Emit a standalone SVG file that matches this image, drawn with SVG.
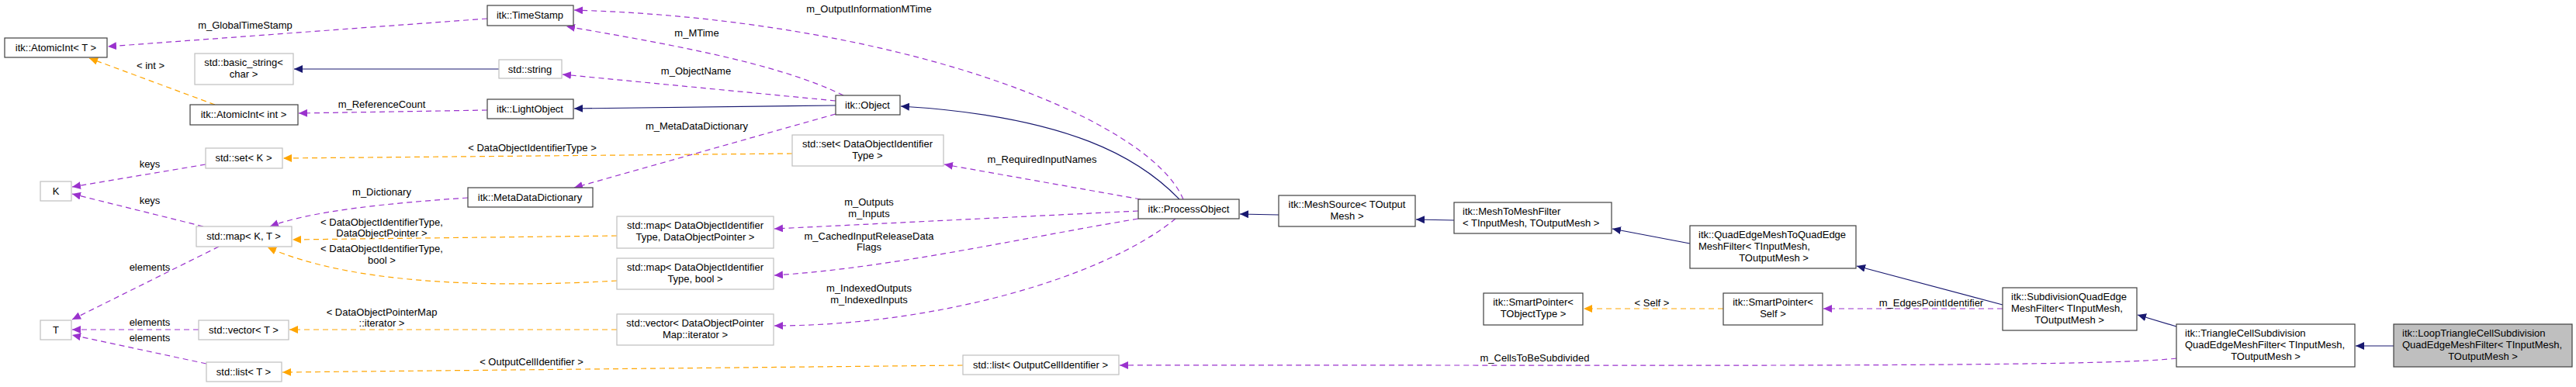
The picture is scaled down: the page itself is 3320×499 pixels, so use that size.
<svg xmlns="http://www.w3.org/2000/svg" width="3320" height="499" viewBox="0 0 3320 499">
<style>
text{font-family:"Liberation Sans",Arial,sans-serif;font-size:13px;fill:#000}
.c{text-anchor:middle}
.b{fill:#fff;stroke:#404040;stroke-width:1.2}
.g{fill:#fff;stroke:#bfbfbf;stroke-width:1.2}
.h{fill:#bfbfbf;stroke:#404040;stroke-width:1.2}
.i{fill:none;stroke:#191970;stroke-width:1.2;marker-end:url(#an)}
.t{fill:none;stroke:#FFA500;stroke-width:1.2;stroke-dasharray:7,5;marker-end:url(#ao)}
.u{fill:none;stroke:#9A32CD;stroke-width:1.2;stroke-dasharray:7,5;marker-end:url(#ap)}
</style>
<defs>
<marker id="an" markerWidth="12" markerHeight="10" refX="11" refY="5" orient="auto" markerUnits="userSpaceOnUse"><path d="M0,0 L11,5 L0,10 Z" fill="#191970"/></marker>
<marker id="ao" markerWidth="12" markerHeight="10" refX="11" refY="5" orient="auto" markerUnits="userSpaceOnUse"><path d="M0,0 L11,5 L0,10 Z" fill="#FFA500"/></marker>
<marker id="ap" markerWidth="12" markerHeight="10" refX="11" refY="5" orient="auto" markerUnits="userSpaceOnUse"><path d="M0,0 L11,5 L0,10 Z" fill="#9A32CD"/></marker>
</defs>
<rect width="3320" height="499" fill="#fff"/>
<g id="connectors">
<path class="i" d="M3085,446 L3036,446"/>
<path class="i" d="M2805,421 L2755,406"/>
<path class="i" d="M2581,393 L2393,343"/>
<path class="i" d="M2178,314 L2078,295"/>
<path class="i" d="M1874,284 L1825,283"/>
<path class="i" d="M1648,277 L1598,276"/>
<path class="i" d="M1520,257 C1470,205 1380,150 1161,137"/>
<path class="i" d="M1077,136 L740,140"/>
<path class="i" d="M643,89 L379,89"/>
<path class="t" d="M277,135 L115,75"/><text class="c" x="194" y="89">&lt; int &gt;</text>
<path class="t" d="M1021,198 L365,204"/><text class="c" x="686" y="195">&lt; DataObjectIdentifierType &gt;</text>
<path class="t" d="M795,304 L377,309"/><text class="c" x="492" y="291">&lt; DataObjectIdentifierType,</text><text class="c" x="492" y="305">DataObjectPointer &gt;</text>
<path class="t" d="M795,362 C620,372 450,365 345,319"/><text class="c" x="492" y="325">&lt; DataObjectIdentifierType,</text><text class="c" x="492" y="340">bool &gt;</text>
<path class="t" d="M795,425 L373,425"/><text class="c" x="492" y="407">&lt; DataObjectPointerMap</text><text class="c" x="492" y="421">::iterator &gt;</text>
<path class="t" d="M1241,471 L364,480"/><text class="c" x="685" y="471">&lt; OutputCellIdentifier &gt;</text>
<path class="t" d="M2221,398 L2041,398"/><text class="c" x="2129" y="395">&lt; Self &gt;</text>
<path class="u" d="M628,24 L139,60"/><text class="c" x="316" y="37">m_GlobalTimeStamp</text>
<path class="u" d="M628,142 L385,146"/><text class="c" x="492" y="139">m_ReferenceCount</text>
<path class="u" d="M265,212 L93,241"/><text class="c" x="193" y="216">keys</text>
<path class="u" d="M262,292 L93,250"/><text class="c" x="193" y="263">keys</text>
<path class="u" d="M282,318 L93,412"/><text class="c" x="193" y="349">elements</text>
<path class="u" d="M256,425 L93,425"/><text class="c" x="193" y="420">elements</text>
<path class="u" d="M266,469 L93,432"/><text class="c" x="193" y="440">elements</text>
<path class="u" d="M603,255 C500,262 400,272 348,292"/><text class="c" x="492" y="252">m_Dictionary</text>
<path class="u" d="M1087,123 C1000,80 850,55 730,34"/><text class="c" x="898" y="47">m_MTime</text>
<path class="u" d="M1077,130 L725,96"/><text class="c" x="897" y="96">m_ObjectName</text>
<path class="u" d="M1077,147 L740,242"/><text class="c" x="898" y="167">m_MetaDataDictionary</text>
<path class="u" d="M1525,257 C1480,150 1150,25 740,13"/><text class="c" x="1120" y="16">m_OutputInformationMTime</text>
<path class="u" d="M1470,257 L1217,212"/><text class="c" x="1343" y="210">m_RequiredInputNames</text>
<path class="u" d="M1467,272 L998,295"/><text class="c" x="1120" y="265">m_Outputs</text><text class="c" x="1120" y="280">m_Inputs</text>
<path class="u" d="M1467,282 C1300,310 1150,345 998,355"/><text class="c" x="1120" y="309">m_CachedInputReleaseData</text><text class="c" x="1120" y="323">Flags</text>
<path class="u" d="M1515,282 C1420,360 1200,420 998,420"/><text class="c" x="1120" y="376">m_IndexedOutputs</text><text class="c" x="1120" y="391">m_IndexedInputs</text>
<path class="u" d="M2805,462 C2700,475 2000,470 1443,471"/><text class="c" x="1978" y="466">m_CellsToBeSubdivided</text>
<path class="u" d="M2581,398 L2350,398"/><text class="c" x="2489" y="395">m_EdgesPointIdentifier</text>
</g>
<g id="AtomicIntT"><rect class="b" x="6" y="49" width="132" height="25"/><text class="c" x="72" y="66">itk::AtomicInt&lt; T &gt;</text></g>
<g id="basic_string"><rect class="g" x="251" y="69" width="127" height="40"/><text class="c" x="314" y="85">std::basic_string&lt;</text><text class="c" x="314" y="100">char &gt;</text></g>
<g id="AtomicIntInt"><rect class="b" x="245" y="135" width="139" height="26"/><text class="c" x="314" y="152">itk::AtomicInt&lt; int &gt;</text></g>
<g id="setK"><rect class="g" x="265" y="191" width="99" height="26"/><text class="c" x="314" y="208">std::set&lt; K &gt;</text></g>
<g id="K"><rect class="g" x="52" y="234" width="40" height="25"/><text class="c" x="72" y="251">K</text></g>
<g id="mapKT"><rect class="g" x="253" y="292" width="123" height="26"/><text class="c" x="314" y="309">std::map&lt; K, T &gt;</text></g>
<g id="T"><rect class="g" x="52" y="413" width="40" height="25"/><text class="c" x="72" y="430">T</text></g>
<g id="vectorT"><rect class="g" x="256" y="413" width="116" height="25"/><text class="c" x="314" y="430">std::vector&lt; T &gt;</text></g>
<g id="listT"><rect class="g" x="266" y="467" width="97" height="25"/><text class="c" x="314" y="484">std::list&lt; T &gt;</text></g>
<g id="TimeStamp"><rect class="b" x="628" y="7" width="111" height="26"/><text class="c" x="683" y="24">itk::TimeStamp</text></g>
<g id="string"><rect class="g" x="643" y="77" width="81" height="24"/><text class="c" x="683" y="94">std::string</text></g>
<g id="LightObject"><rect class="b" x="628" y="128" width="111" height="25"/><text class="c" x="683" y="145">itk::LightObject</text></g>
<g id="MetaDataDictionary"><rect class="b" x="603" y="242" width="161" height="25"/><text class="c" x="683" y="259">itk::MetaDataDictionary</text></g>
<g id="mapDOP"><rect class="g" x="795" y="279" width="202" height="41"/><text class="c" x="896" y="295">std::map&lt; DataObjectIdentifier</text><text class="c" x="896" y="310">Type, DataObjectPointer &gt;</text></g>
<g id="mapBool"><rect class="g" x="795" y="333" width="202" height="40"/><text class="c" x="896" y="349">std::map&lt; DataObjectIdentifier</text><text class="c" x="896" y="364">Type, bool &gt;</text></g>
<g id="vectorDOP"><rect class="g" x="795" y="405" width="202" height="40"/><text class="c" x="896" y="421">std::vector&lt; DataObjectPointer</text><text class="c" x="896" y="436">Map::iterator &gt;</text></g>
<g id="Object"><rect class="b" x="1077" y="123" width="83" height="25"/><text class="c" x="1118" y="140">itk::Object</text></g>
<g id="setDOI"><rect class="g" x="1021" y="174" width="195" height="40"/><text class="c" x="1118" y="190">std::set&lt; DataObjectIdentifier</text><text class="c" x="1118" y="205">Type &gt;</text></g>
<g id="listOCI"><rect class="g" x="1241" y="458" width="201" height="25"/><text class="c" x="1341" y="475">std::list&lt; OutputCellIdentifier &gt;</text></g>
<g id="ProcessObject"><rect class="b" x="1467" y="257" width="130" height="25"/><text class="c" x="1532" y="274">itk::ProcessObject</text></g>
<g id="MeshSource"><rect class="b" x="1648" y="252" width="176" height="40"/><text class="c" x="1736" y="268">itk::MeshSource&lt; TOutput</text><text class="c" x="1736" y="283">Mesh &gt;</text></g>
<g id="MeshToMeshFilter"><rect class="b" x="1874" y="261" width="203" height="40"/><text x="1885" y="277">itk::MeshToMeshFilter</text><text x="1885" y="292">&lt; TInputMesh, TOutputMesh &gt;</text></g>
<g id="QEMToQEMFilter"><rect class="b" x="2178" y="291" width="214" height="55"/><text x="2189" y="307">itk::QuadEdgeMeshToQuadEdge</text><text x="2189" y="322">MeshFilter&lt; TInputMesh,</text><text class="c" x="2286" y="337">TOutputMesh &gt;</text></g>
<g id="SmartPointerTObjectType"><rect class="b" x="1912" y="378" width="128" height="41"/><text class="c" x="1976" y="394">itk::SmartPointer&lt;</text><text class="c" x="1976" y="409">TObjectType &gt;</text></g>
<g id="SmartPointerSelf"><rect class="b" x="2221" y="378" width="128" height="41"/><text class="c" x="2285" y="394">itk::SmartPointer&lt;</text><text class="c" x="2285" y="409">Self &gt;</text></g>
<g id="Subdivision"><rect class="b" x="2581" y="371" width="173" height="55"/><text x="2592" y="387">itk::SubdivisionQuadEdge</text><text x="2592" y="402">MeshFilter&lt; TInputMesh,</text><text class="c" x="2667" y="417">TOutputMesh &gt;</text></g>
<g id="TriangleCell"><rect class="b" x="2805" y="418" width="230" height="55"/><text x="2816" y="434">itk::TriangleCellSubdivision</text><text x="2816" y="449">QuadEdgeMeshFilter&lt; TInputMesh,</text><text class="c" x="2920" y="464">TOutputMesh &gt;</text></g>
<g id="LoopTriangleCell"><rect class="h" x="3085" y="418" width="230" height="55"/><text x="3096" y="434">itk::LoopTriangleCellSubdivision</text><text x="3096" y="449">QuadEdgeMeshFilter&lt; TInputMesh,</text><text class="c" x="3200" y="464">TOutputMesh &gt;</text></g>
</svg>
